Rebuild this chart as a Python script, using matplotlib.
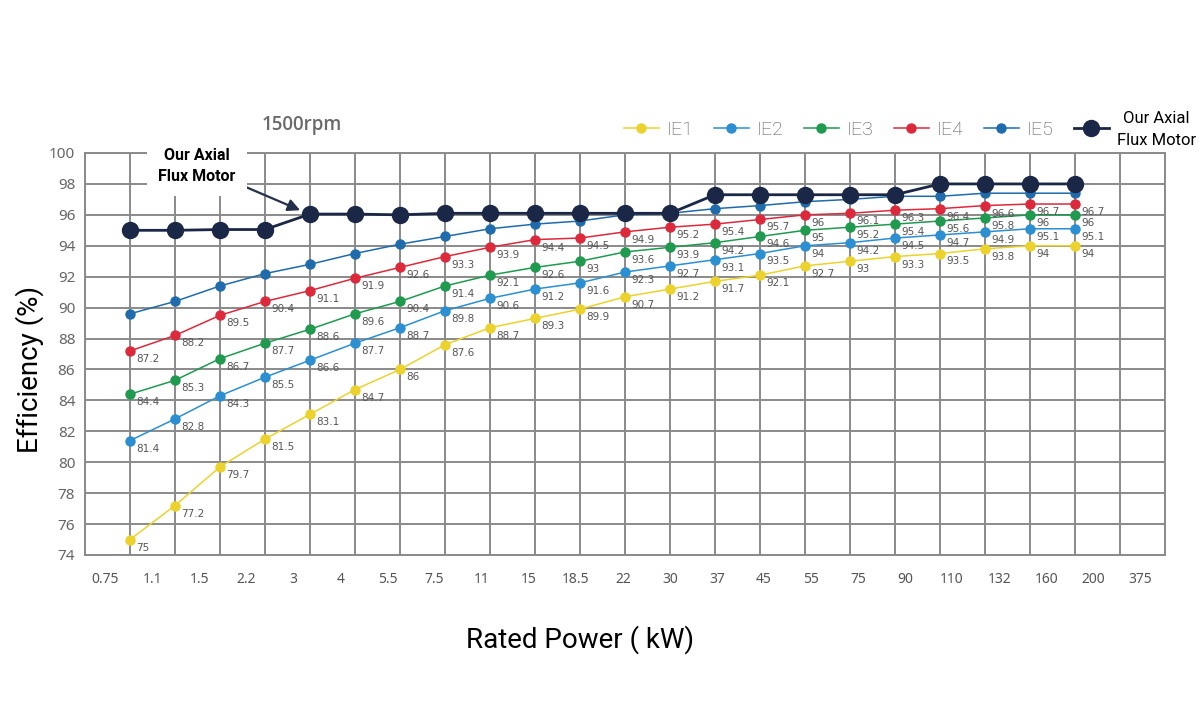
import numpy as np
import matplotlib
matplotlib.use("Agg")
import matplotlib.pyplot as plt

# Rated power tick labels (kW)
powers = ['0.75', '1.1', '1.5', '2.2', '3', '4', '5.5', '7.5', '11', '15', '18.5', '22',
          '30', '37', '45', '55', '75', '90', '110', '132', '160', '200', '375']

# Efficiency classes (%), one value per rated power point
ie1 = [75, 77.2, 79.7, 81.5, 83.1, 84.7, 86, 87.6, 88.7, 89.3, 89.9, 90.7,
       91.2, 91.7, 92.1, 92.7, 93, 93.3, 93.5, 93.8, 94, 94]
ie2 = [81.4, 82.8, 84.3, 85.5, 86.6, 87.7, 88.7, 89.8, 90.6, 91.2, 91.6, 92.3,
       92.7, 93.1, 93.5, 94, 94.2, 94.5, 94.7, 94.9, 95.1, 95.1]
ie3 = [84.4, 85.3, 86.7, 87.7, 88.6, 89.6, 90.4, 91.4, 92.1, 92.6, 93, 93.6,
       93.9, 94.2, 94.6, 95, 95.2, 95.4, 95.6, 95.8, 96, 96]
ie4 = [87.2, 88.2, 89.5, 90.4, 91.1, 91.9, 92.6, 93.3, 93.9, 94.4, 94.5, 94.9,
       95.2, 95.4, 95.7, 96, 96.1, 96.3, 96.4, 96.6, 96.7, 96.7]
ie5 = [89.6, 90.4, 91.4, 92.2, 92.8, 93.5, 94.1, 94.6, 95.1, 95.4, 95.6, 96.0,
       96.1, 96.4, 96.6, 96.85, 97.0, 97.2, 97.2, 97.4, 97.4, 97.4]
axial = [95, 95, 95.05, 95.05, 96.05, 96.05, 96.0, 96.1, 96.1, 96.1, 96.1, 96.1,
         96.1, 97.3, 97.3, 97.3, 97.3, 97.3, 98, 98, 98, 98]

x = np.arange(1, len(ie1) + 1)

fig = plt.figure(figsize=(12, 7.1), dpi=100)
ax = fig.add_axes([85 / 1200, 1 - 555 / 710, 1080 / 1200, 402 / 710])

grid_c = '#8a8a8a'
ax.set_xlim(0, 24)
ax.set_ylim(74, 100)
ax.set_yticks(np.arange(74, 101, 2))
ax.set_xticks(np.arange(0, 25), minor=True)
ax.set_xticks(np.linspace(0.45, 23.45, len(powers)))
ax.set_xticklabels(powers)
ax.grid(True, which='minor', axis='x', color=grid_c, lw=1.4)
ax.grid(True, which='major', axis='y', color=grid_c, lw=1.4)
ax.set_axisbelow(True)
for s in ax.spines.values():
    s.set_color(grid_c)
    s.set_linewidth(1.4)
ax.tick_params(which='both', length=0)
ax.tick_params(axis='x', pad=12, labelsize=10, labelcolor='#555555')
ax.tick_params(axis='y', pad=7, labelsize=11, labelcolor='#666666')
for lab in ax.get_xticklabels() + ax.get_yticklabels():
    lab.set_family('Noto Sans')

series = [
    ('IE1', ie1, '#ecd22c', True),
    ('IE2', ie2, '#2b8fd1', True),
    ('IE3', ie3, '#1f9a4f', True),
    ('IE4', ie4, '#dc2a3c', True),
    ('IE5', ie5, '#1f6bab', False),
]
handles = []
for name, vals, col, show in series:
    h, = ax.plot(x, vals, '-o', color=col, lw=1.1, ms=6.5, label=name, zorder=3)
    handles.append(h)
    if show:
        for xi, v in zip(x, vals):
            ax.annotate(f'{v:g}', (xi, v), xytext=(6, -8), textcoords='offset pixels',
                        ha='left', va='center', fontsize=7.5, color='#555555',
                        family='DejaVu Sans', zorder=4)

h, = ax.plot(x, axial, '-o', color='#1b2746', lw=2, ms=11.5,
             label='Our Axial\nFlux Motor', zorder=5)
handles.append(h)

ax.annotate('Our Axial\nFlux Motor', xy=(4.78, 96.3), xytext=(2.49, 99.15),
            ha='center', va='center', fontsize=11.5, fontweight='bold',
            family='Roboto', linespacing=1.55, zorder=6,
            bbox=dict(boxstyle='square,pad=0.7', fc='white', ec='none'),
            arrowprops=dict(arrowstyle='-|>', color='#25304a', lw=1.6,
                            mutation_scale=18, shrinkA=0, shrinkB=0))

leg = fig.legend(handles=handles, loc='center right', bbox_to_anchor=(0.998, 0.818),
                 ncol=6, frameon=False, handlelength=1.8, borderpad=0.1,
                 borderaxespad=0, handletextpad=0.4, columnspacing=1.05,
                 prop={'family': 'Roboto', 'weight': 'light', 'size': 14})
for t in leg.get_texts()[:-1]:
    t.set_color('#505050')
last = leg.get_texts()[-1]
last.set_color('black')
last.set_fontsize(12)
last.set_linespacing(1.55)
last.set_fontweight('normal')
last.set_multialignment('center')

fig.text(262 / 1200, 1 - 125 / 710, '1500rpm', ha='left', va='center',
         fontsize=13.5, color='#6a6a6a', family='Open Sans', fontweight='semibold')
fig.text(30 / 1200, 1 - 369 / 710, 'Efficiency (%)', rotation=90, ha='center',
         va='center', fontsize=20, family='Roboto', color='black')
fig.text(580 / 1200, 1 - 640 / 710, 'Rated Power ( kW)', ha='center', va='center',
         fontsize=20, family='Roboto', color='black')

fig.savefig('out.png', dpi=100)
